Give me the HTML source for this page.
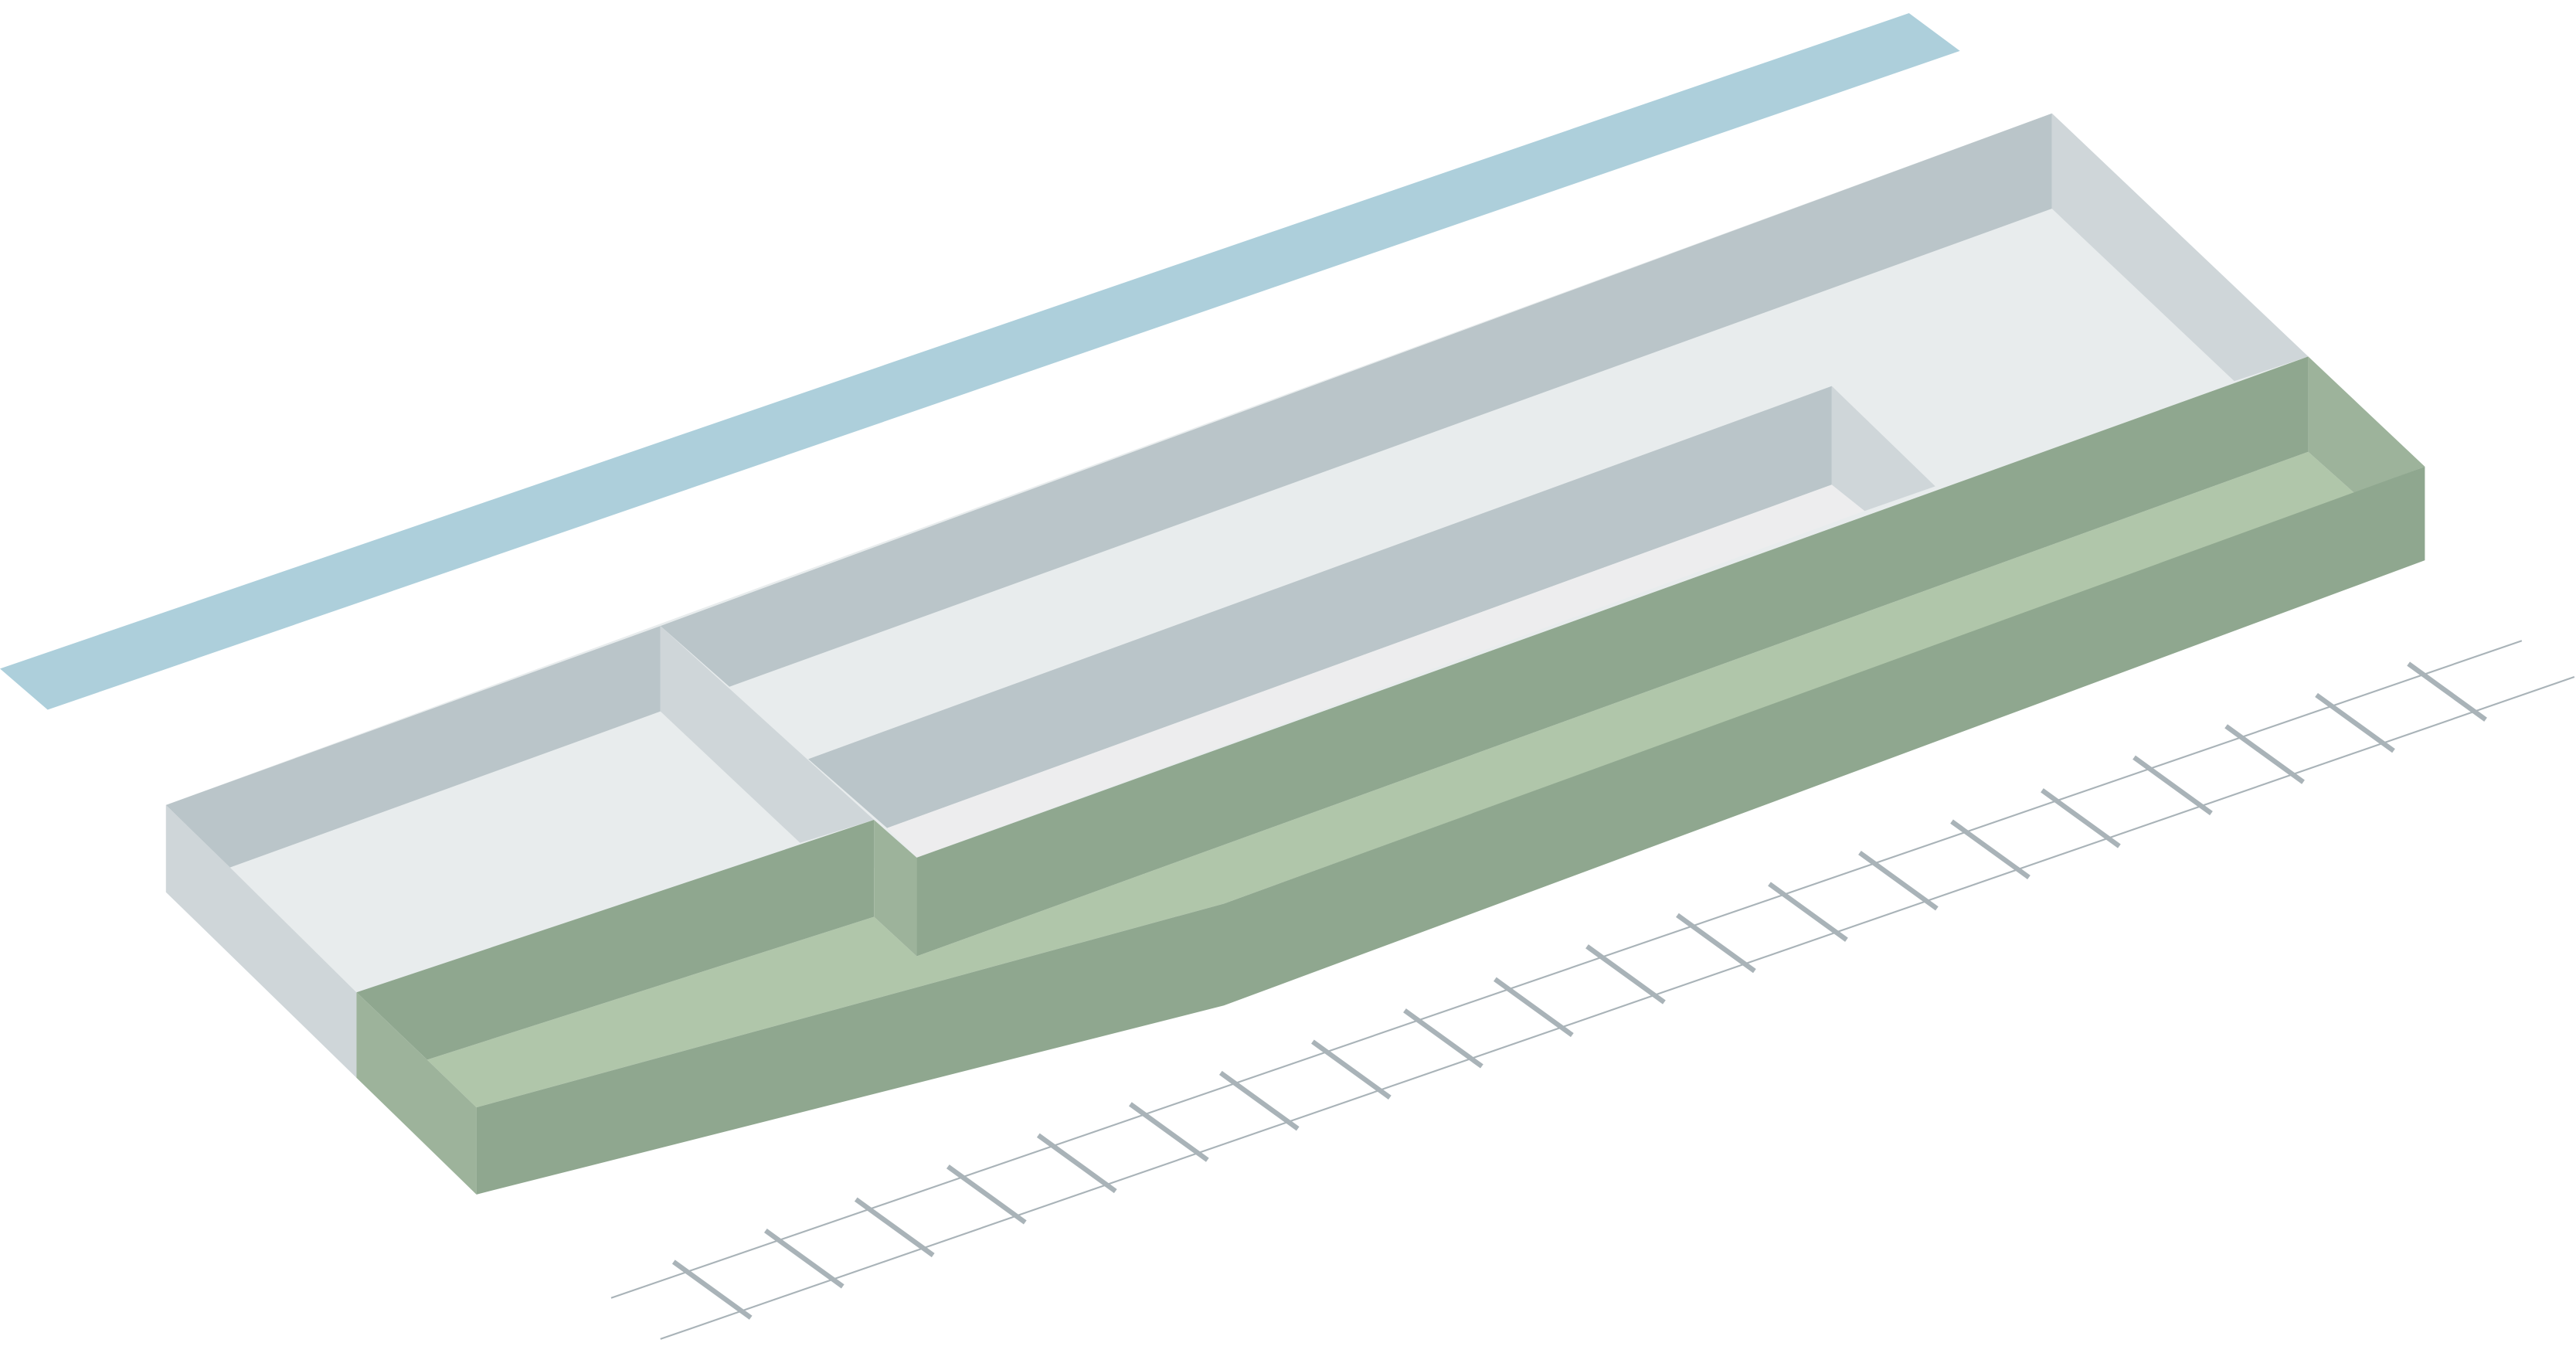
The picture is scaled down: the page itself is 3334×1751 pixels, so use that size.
<!DOCTYPE html>
<html><head><meta charset="utf-8"><style>html,body{margin:0;padding:0;background:#fff;}svg{display:block}</style></head>
<body>
<svg width="3334" height="1751" viewBox="0 0 1568 823.5" preserveAspectRatio="none" xmlns="http://www.w3.org/2000/svg">
<polygon points="0,407 1162,8 1193,31 29,432" fill="#adcfdb"/>
<polygon points="101,490 1249,69 1405,217 558,522 217,604" fill="#e8eced"/>
<polygon points="101,490 402,381 402,433 140,528" fill="#bac5c9"/>
<polygon points="402,381 1249,69 1249,127 444,418" fill="#bac5c9"/>
<polygon points="1249,69 1405,217 1360,232 1249,127" fill="#cfd6d9"/>
<polygon points="101,490 140,528 217,604 217,656 101,543" fill="#cfd6d9"/>
<polygon points="402,381 532,499 487,513 402,433" fill="#cfd6d9"/>
<polygon points="492,462 1115,235 1115,295 540,504" fill="#bac5c9"/>
<polygon points="540,504 1115,295 1135,311 558,522" fill="#ededee"/>
<polygon points="1115,235 1178,296 1135,311 1115,295" fill="#cfd6d9"/>
<polygon points="260,645 532,558 558,582 1405,275 1433,300 745,550 290,674" fill="#b0c6aa"/>
<polygon points="217,604 532,499 532,558 260,645" fill="#8fa78f"/>
<polygon points="558,522 1405,217 1405,275 558,582" fill="#8fa78f"/>
<polygon points="532,499 558,522 558,582 532,558" fill="#9db39b"/>
<polygon points="1405,217 1476,284 1433,300 1405,275" fill="#9db39b"/>
<polygon points="290,674 745,550 1476,284 1476,341 745,612 290,727" fill="#8fa78f"/>
<polygon points="217,604 260,645 290,674 290,727 217,656" fill="#9db39b"/>
<line x1="372" y1="790" x2="1535" y2="390" stroke="#a9b3b8" stroke-width="1"/>
<line x1="402" y1="815" x2="1567" y2="412" stroke="#a9b3b8" stroke-width="1"/>
<g stroke="#a9b3b8" stroke-width="3">
<line x1="410" y1="768" x2="457" y2="802"/><line x1="466" y1="749" x2="513" y2="783"/><line x1="521" y1="730" x2="568" y2="764"/><line x1="577" y1="710" x2="624" y2="744"/><line x1="632" y1="691" x2="679" y2="725"/><line x1="688" y1="672" x2="735" y2="706"/><line x1="743" y1="653" x2="790" y2="687"/><line x1="799" y1="634" x2="846" y2="668"/><line x1="855" y1="615" x2="902" y2="649"/><line x1="910" y1="596" x2="957" y2="630"/><line x1="966" y1="576" x2="1013" y2="610"/><line x1="1021" y1="557" x2="1068" y2="591"/><line x1="1077" y1="538" x2="1124" y2="572"/><line x1="1132" y1="519" x2="1179" y2="553"/><line x1="1188" y1="500" x2="1235" y2="534"/><line x1="1243" y1="481" x2="1290" y2="515"/><line x1="1299" y1="461" x2="1346" y2="495"/><line x1="1355" y1="442" x2="1402" y2="476"/><line x1="1410" y1="423" x2="1457" y2="457"/><line x1="1466" y1="404" x2="1513" y2="438"/>
</g>
</svg>
</body></html>
